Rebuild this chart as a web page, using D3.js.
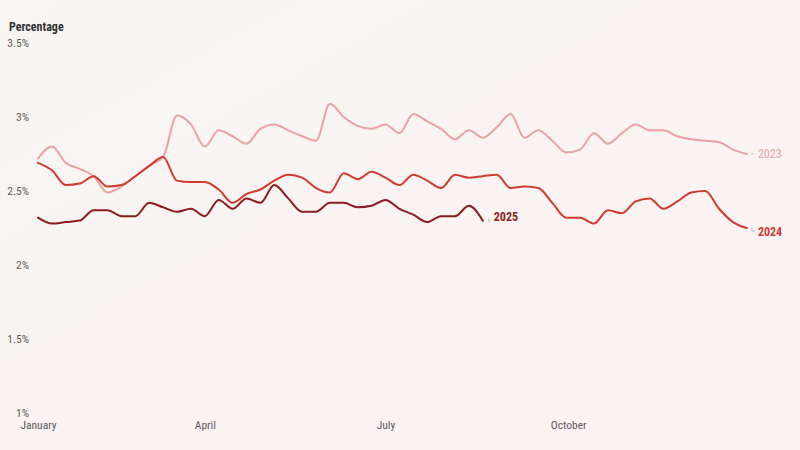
<!DOCTYPE html>
<html>
<head>
<meta charset="utf-8">
<script src="https://cdn.jsdelivr.net/npm/d3@7"></script>
<style>
  html, body { margin: 0; padding: 0; }
  body { width: 800px; height: 450px; overflow: hidden; }
  svg text { font-family: "Roboto Condensed", "Liberation Sans Narrow", "Roboto", sans-serif; }
</style>
</head>
<body>
<div id="chart"></div>
<script>
// weekly values (percentage), week 0 = first week of January
const values2023 = [2.72, 2.80, 2.69, 2.65, 2.60, 2.49, 2.53, 2.60, 2.67, 2.73,
  3.01, 2.95, 2.80, 2.91, 2.87, 2.82, 2.92, 2.95, 2.91, 2.87,
  2.84, 3.09, 3.00, 2.94, 2.92, 2.95, 2.89, 3.02, 2.97, 2.92,
  2.85, 2.91, 2.86, 2.93, 3.02, 2.86, 2.91, 2.84, 2.76, 2.78,
  2.89, 2.82, 2.89, 2.95, 2.91, 2.91, 2.87, 2.85, 2.84, 2.83,
  2.78, 2.75];
const values2024 = [2.69, 2.64, 2.54, 2.55, 2.60, 2.53, 2.54, 2.60, 2.67, 2.73,
  2.57, 2.56, 2.56, 2.51, 2.42, 2.48, 2.51, 2.57, 2.61, 2.59,
  2.52, 2.49, 2.62, 2.58, 2.63, 2.59, 2.54, 2.61, 2.57, 2.52,
  2.61, 2.59, 2.60, 2.61, 2.52, 2.53, 2.52, 2.42, 2.32, 2.32,
  2.28, 2.37, 2.35, 2.43, 2.45, 2.38, 2.43, 2.49, 2.50, 2.38,
  2.29, 2.25];
const values2025 = [2.32, 2.28, 2.29, 2.30, 2.37, 2.37, 2.33, 2.33, 2.42, 2.39,
  2.36, 2.38, 2.33, 2.44, 2.38, 2.45, 2.42, 2.54, 2.45, 2.36,
  2.36, 2.42, 2.42, 2.39, 2.40, 2.44, 2.38, 2.34, 2.29, 2.33,
  2.33, 2.40, 2.30];

const seriesNames = ["2023", "2024", "2025"];
const seriesColors = ["#eba2a4", "#cf3b2e", "#8c1c20"];
const yTicks = [1, 1.5, 2, 2.5, 3, 3.5];
const monthTicks = [new Date(2023, 0, 7), new Date(2023, 3, 1), new Date(2023, 6, 1), new Date(2023, 9, 1)];

const width = 800;
const height = 450;

const weekDate = i => new Date(2023, 0, 7 + 7 * i);

const svg = d3.select("#chart")
  .append("svg")
  .attr("width", width)
  .attr("height", height);

// fond légèrement dégradé
const defs = svg.append("defs");
const grad = defs.append("linearGradient")
  .attr("id", "bg")
  .attr("x1", "0").attr("y1", "0")
  .attr("x2", "1").attr("y2", "1");
grad.append("stop").attr("offset", "0%").attr("stop-color", "#f7f6f2");
grad.append("stop").attr("offset", "45%").attr("stop-color", "#f9f4f2");
grad.append("stop").attr("offset", "100%").attr("stop-color", "#fcf2f3");
svg.append("rect")
  .attr("width", width)
  .attr("height", height)
  .attr("fill", "url(#bg)");

const x = d3.scaleTime()
  .domain([weekDate(0), weekDate(51)])
  .range([38, 746.9]);

const y = d3.scaleLinear()
  .domain([1, 3.5])
  .range([413, 43]);

// axe Y
const yAxis = d3.axisLeft(y)
  .tickValues(yTicks)
  .tickSize(0)
  .tickPadding(0)
  .tickFormat(d => d + "%");

svg.append("g")
  .attr("transform", "translate(29,0)")
  .call(yAxis)
  .call(g => g.select(".domain").remove())
  .call(g => g.selectAll("text")
    .attr("fill", "#5a5a5a")
    .style("font-size", "11.5px"));

svg.append("text")
  .attr("x", 9)
  .attr("y", 31)
  .attr("fill", "#333")
  .style("font-size", "12px")
  .style("font-weight", "bold")
  .text("Percentage");

// axe X
const xAxis = d3.axisBottom(x)
  .tickValues(monthTicks)
  .tickSize(0)
  .tickPadding(0)
  .tickFormat(d3.timeFormat("%B"));

svg.append("g")
  .attr("transform", "translate(0,421)")
  .call(xAxis)
  .call(g => g.select(".domain").remove())
  .call(g => g.selectAll("text")
    .attr("fill", "#5a5a5a")
    .style("font-size", "11.5px"));

// lignes
const line = d3.line()
  .x((d, i) => x(weekDate(i)))
  .y(d => y(d))
  .curve(d3.curveMonotoneX);

const allSeries = [values2023, values2024, values2025];

svg.append("g")
  .selectAll("path")
  .data(allSeries)
  .join("path")
  .attr("fill", "none")
  .attr("stroke", (d, i) => seriesColors[i])
  .attr("stroke-width", 2)
  .attr("stroke-linejoin", "round")
  .attr("stroke-linecap", "round")
  .attr("d", line);

// étiquettes de fin de ligne
const labelOffsets = [
  { dx: 11, dy: 0, lead: "h" },
  { dx: 11, dy: 4, lead: "l" },
  { dx: 11, dy: -4, lead: "v" }
];

allSeries.forEach((vals, i) => {
  const last = vals.length - 1;
  const ex = x(weekDate(last));
  const ey = y(vals[last]);
  const o = labelOffsets[i];
  const g = svg.append("g");

  let leader;
  if (o.lead === "h") leader = `M${ex + 4},${ey} H${ex + 7}`;
  else if (o.lead === "l") leader = `M${ex + 5},${ey} V${ey + 3} H${ex + 8}`;
  else leader = `M${ex + 6},${ey - 2} V${ey + 2}`;

  g.append("path")
    .attr("d", leader)
    .attr("fill", "none")
    .attr("stroke", "#aaa")
    .attr("stroke-width", 0.8);

  g.append("text")
    .attr("x", ex + o.dx)
    .attr("y", ey + o.dy)
    .attr("dy", "0.35em")
    .attr("fill", seriesColors[i])
    .style("font-size", "12px")
    .style("font-weight", i === 0 ? "normal" : "bold")
    .text(seriesNames[i]);
});
</script>
</body>
</html>
